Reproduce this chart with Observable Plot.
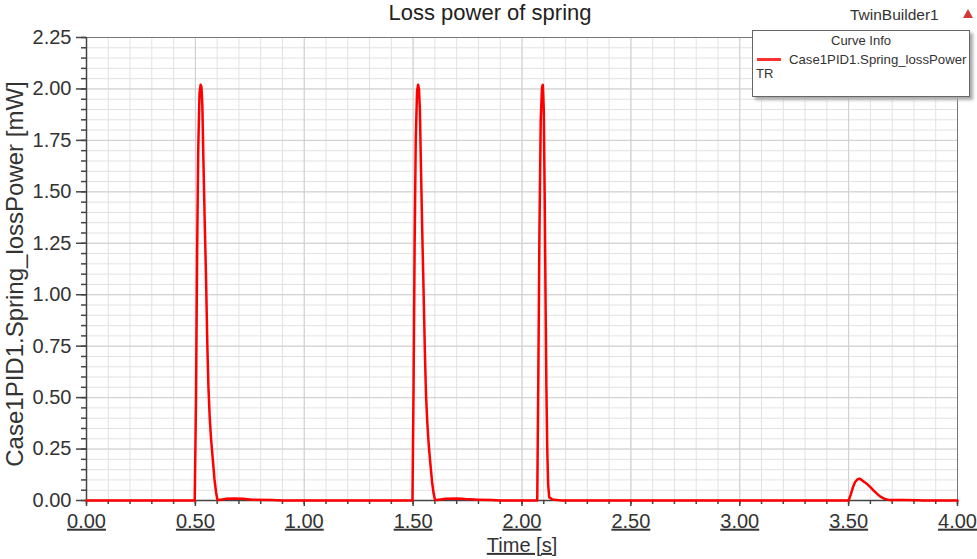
<!DOCTYPE html>
<html>
<head>
<meta charset="utf-8">
<script src="https://cdn.jsdelivr.net/npm/d3@7"></script>
<script src="https://cdn.jsdelivr.net/npm/@observablehq/plot@0.6"></script>
<style>
  html, body { margin: 0; padding: 0; background: #fff; }
  #wrap { position: relative; width: 977px; height: 559px; overflow: hidden; font-family: 'Liberation Sans', Arial, sans-serif; color: #333; }
  #wrap svg { position: absolute; left: 0; top: 0; }
  g[aria-label="x-axis tick label"] text, text.uline {
    text-decoration: underline; text-decoration-thickness: 2px;
  }
  .title { position: absolute; left: 0; width: 980px; top: 2px; text-align: center; font-size: 22px; line-height: 22px; color: #222; }
  .brand { position: absolute; left: 850px; top: 7px; font-size: 15.5px; line-height: 16px; color: #333; }
  .tri { position: absolute; left: 963px; top: 9px; width: 0; height: 0; border-left: 5.5px solid transparent; border-right: 5.5px solid transparent; border-bottom: 9px solid #d23a3a; }
  .legend { position: absolute; left: 752px; top: 30px; width: 216px; height: 65px; background: #fff; border: 1px solid #666; box-shadow: 3px 3px 3px #aaa; }
  .legend .hdr { position: absolute; left: 0; width: 216px; top: 3px; text-align: center; font-size: 13px; line-height: 14px; color: #333; }
  .legend .swatch { position: absolute; left: 4px; top: 27px; width: 24px; height: 3px; background: #ff3030; }
  .legend .name { position: absolute; left: 36px; top: 22px; font-size: 13.2px; line-height: 14px; color: #333; white-space: nowrap; }
  .legend .tr { position: absolute; left: 3px; top: 36px; font-size: 13px; line-height: 14px; color: #333; }
</style>
</head>
<body>
<div id="wrap"></div>
<script>
// ---- data ----
const chartTitle = "Loss power of spring";
const xLabel = "Time [s]";
const yLabel = "Case1PID1.Spring_lossPower [mW]";
const legendName = "Case1PID1.Spring_lossPower";

const xMajorTicks = [0, 0.5, 1, 1.5, 2, 2.5, 3, 3.5, 4];
const xMinorTicks = d3.range(0, 41).map(i => i / 10);
const yMajorTicks = [0, 0.25, 0.5, 0.75, 1, 1.25, 1.5, 1.75, 2, 2.25];
const yMinorTicks = d3.range(0, 46).map(i => i / 20);

// time [s]
const curveT = [
  0, 0.497, 0.503, 0.508, 0.513, 0.519, 0.524, 0.528, 0.532, 0.537, 0.543, 0.549, 0.555, 0.560, 0.566, 0.572, 0.580, 0.588, 0.595, 0.601, 0.610, 0.640, 0.680, 0.720, 0.760, 0.850, 0.900,
  1.497, 1.502, 1.507, 1.512, 1.518, 1.523, 1.527, 1.531, 1.536, 1.542, 1.548, 1.554, 1.559, 1.565, 1.571, 1.579, 1.587, 1.594, 1.600, 1.610, 1.650, 1.700, 1.740, 1.800, 1.860, 1.900,
  2.070, 2.075, 2.080, 2.086, 2.092, 2.096, 2.100, 2.104, 2.108, 2.112, 2.116, 2.120, 2.125, 2.140, 2.160, 2.180,
  3.500, 3.510, 3.520, 3.530, 3.540, 3.550, 3.560, 3.575, 3.590, 3.600, 3.615, 3.630, 3.646, 3.665, 3.685, 3.750, 3.820, 3.840, 4.000
];
// loss power [mW]
const curveV = [
  0, 0, 0.50, 1.20, 1.70, 1.98, 2.02, 2.01, 1.92, 1.65, 1.35, 1.08, 0.75, 0.55, 0.40, 0.30, 0.20, 0.10, 0.04, 0.005, 0.002, 0.008, 0.010, 0.008, 0.004, 0.002, 0,
  0, 0.55, 1.25, 1.75, 1.99, 2.02, 2.00, 1.90, 1.62, 1.30, 1.02, 0.72, 0.52, 0.38, 0.28, 0.18, 0.09, 0.035, 0.005, 0.002, 0.009, 0.010, 0.007, 0.004, 0.002, 0,
  0, 0.60, 1.30, 1.85, 2.01, 2.02, 1.90, 1.50, 1.00, 0.55, 0.25, 0.08, 0.015, 0.005, 0.003, 0,
  0, 0.030, 0.065, 0.090, 0.102, 0.106, 0.100, 0.088, 0.075, 0.065, 0.048, 0.033, 0.019, 0.008, 0.003, 0.002, 0.001, 0, 0
];

const curve = curveT.map((t, i) => ({t, v: curveV[i]}));

const plot = Plot.plot({
  width: 977,
  height: 559,
  marginLeft: 86,
  marginRight: 20,
  marginTop: 37,
  marginBottom: 59,
  x: {domain: [0, 4], label: null},
  y: {domain: [0, 2.25], label: null},
  style: {fontFamily: "'Liberation Sans', Arial, sans-serif", fontSize: "20px", color: "#333", background: "transparent", overflow: "visible"},
  marks: [
    Plot.gridX(xMinorTicks, {stroke: "#e2e2e2", strokeOpacity: 1}),
    Plot.gridY(yMinorTicks, {stroke: "#e2e2e2", strokeOpacity: 1}),
    Plot.gridX(xMajorTicks, {stroke: "#cfcfcf", strokeOpacity: 1}),
    Plot.gridY(yMajorTicks, {stroke: "#cfcfcf", strokeOpacity: 1}),
    Plot.frame({stroke: "#777"}),
    Plot.axisX(xMinorTicks, {tickSize: 4, tickFormat: () => "", stroke: "#444", strokeWidth: 1.5}),
    Plot.axisX(xMajorTicks, {tickSize: 6, tickPadding: 7, tickFormat: d => d.toFixed(2), stroke: "#444", strokeWidth: 1.5, fill: "#333"}),
    Plot.axisY(yMinorTicks, {tickSize: 5, tickFormat: () => "", stroke: "#444", strokeWidth: 1.5}),
    Plot.axisY(yMajorTicks, {tickSize: 10, tickPadding: 5, tickFormat: d => d.toFixed(2), stroke: "#444", strokeWidth: 1.5, fill: "#333"}),
    Plot.ruleX([0], {stroke: "#444", strokeWidth: 1.5}),
    Plot.ruleY([0], {stroke: "#444", strokeWidth: 1.5}),
    Plot.line(curve, {x: "t", y: "v", stroke: "#ff0000", strokeWidth: 2.5}),
    Plot.text([xLabel], {text: d => d, frameAnchor: "bottom", lineAnchor: "middle", textAnchor: "middle", dy: 45, fontSize: 20, fill: "#333"}),
    Plot.text([yLabel], {text: d => d, frameAnchor: "left", textAnchor: "middle", lineAnchor: "middle", rotate: -90, dx: -71, dy: 5, fontSize: 24, fill: "#333"})
  ]
});

// underline the x-axis title like the reference
plot.querySelectorAll("text").forEach(t => {
  if (t.textContent === xLabel) t.classList.add("uline");
});

const wrap = document.getElementById("wrap");
wrap.appendChild(plot);

const title = document.createElement("div");
title.className = "title";
title.textContent = chartTitle;
wrap.appendChild(title);

const brand = document.createElement("div");
brand.className = "brand";
brand.textContent = "TwinBuilder1";
wrap.appendChild(brand);

const tri = document.createElement("div");
tri.className = "tri";
wrap.appendChild(tri);

const legend = document.createElement("div");
legend.className = "legend";
legend.innerHTML = `<div class="hdr">Curve Info</div><div class="swatch"></div><div class="name"></div><div class="tr">TR</div>`;
legend.querySelector(".name").textContent = legendName;
wrap.appendChild(legend);
</script>
</body>
</html>
